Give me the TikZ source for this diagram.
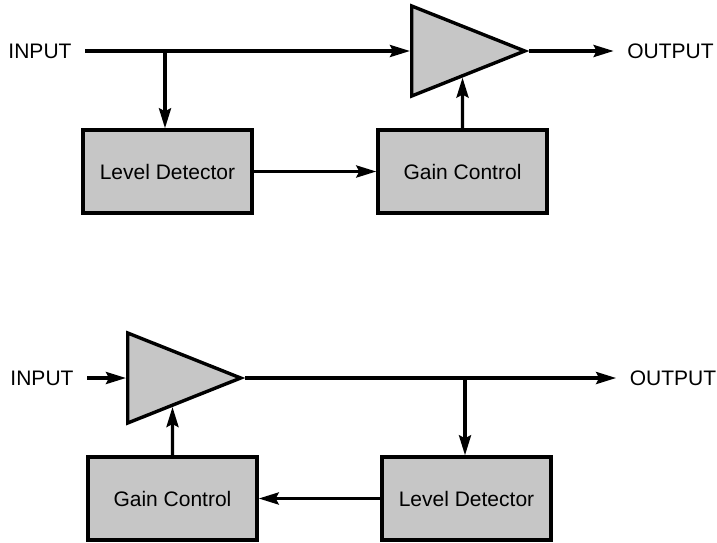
\documentclass[tikz,border=0pt]{standalone}
\usepackage{fontspec}
\setmainfont{Liberation Sans}
\usetikzlibrary{arrows.meta,shapes.geometric}
\begin{document}
\begin{tikzpicture}[x=0.5pt,y=-0.5pt,line width=1.7pt,
  font=\fontsize{10.5}{12.6}\selectfont,
  block/.style={draw,fill=gray!45,minimum width=84.5pt,minimum height=41.5pt,inner sep=0pt},
  amp/.style={draw,fill=gray!45,isosceles triangle,isosceles triangle stretches,
    minimum width=45pt,minimum height=56.5pt,inner sep=0pt,anchor=west},
  lbl/.style={inner sep=6pt},
  arr/.style={-{Stealth[length=10pt,width=6pt,inset=1.5pt]}}]

  \useasboundingbox (0,0) rectangle (717,542);

  % upper chain: level taken before the amplifier
  \node[lbl] (inA) at (40,51) {INPUT};
  \node[amp] (ampA) at (410,51) {};
  \node[lbl] (outA) at (670.5,51) {OUTPUT};
  \node[block] (levA) at (167.5,171.5) {Level Detector};
  \node[block] (gainA) at (462.5,171.5) {Gain Control};
  \coordinate (brA) at (165,51);

  \draw[arr] (inA) -- (ampA.west);
  \draw[arr] (ampA.apex) -- (outA);
  \draw[arr] (brA) -- (brA |- levA.north);
  \draw[arr] (levA) -- (gainA);
  \draw[arr] (gainA) -- (intersection of gainA.north--gainA.south and ampA.south--ampA.apex);

  % lower chain: level taken after the amplifier
  \node[lbl] (inB) at (42,378) {INPUT};
  \node[amp] (ampB) at (126,378) {};
  \node[lbl] (outB) at (673,378) {OUTPUT};
  \node[block] (levB) at (466.5,498.5) {Level Detector};
  \node[block] (gainB) at (172.5,498.5) {Gain Control};
  \coordinate (brB) at (465,378);

  \draw[arr] (inB) -- (ampB.west);
  \draw[arr] (ampB.apex) -- (outB);
  \draw[arr] (brB) -- (brB |- levB.north);
  \draw[arr] (levB) -- (gainB);
  \draw[arr] (gainB) -- (intersection of gainB.north--gainB.south and ampB.south--ampB.apex);

\end{tikzpicture}
\end{document}
